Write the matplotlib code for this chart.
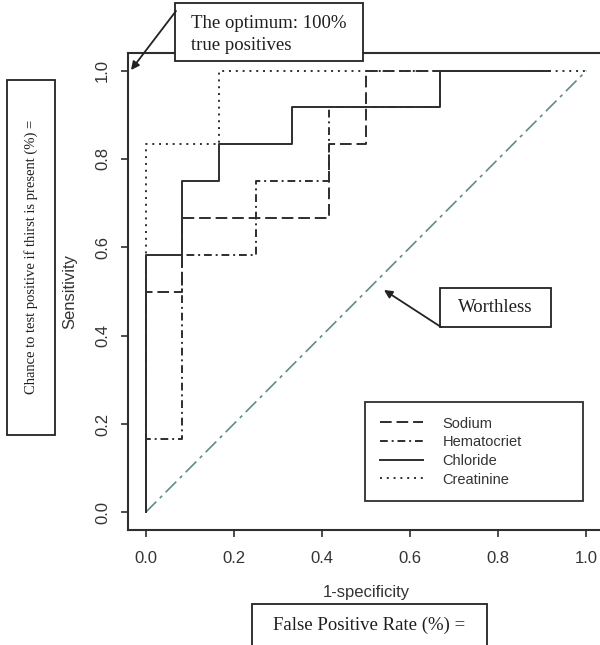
import matplotlib
matplotlib.use("Agg")
import matplotlib.pyplot as plt
from matplotlib.patches import Rectangle

# ---- data ----
sodium_fpr = [0, 0, 0.083, 0.083, 0.417, 0.417, 0.5, 0.5, 0.917]
sodium_tpr = [0, 0.5, 0.5, 0.667, 0.667, 0.833, 0.833, 1.0, 1.0]

hemat_fpr = [0, 0, 0.083, 0.083, 0.25, 0.25, 0.417, 0.417, 0.667, 0.667, 0.917]
hemat_tpr = [0, 0.167, 0.167, 0.583, 0.583, 0.75, 0.75, 0.917, 0.917, 1.0, 1.0]

chlor_fpr = [0, 0, 0.083, 0.083, 0.167, 0.167, 0.333, 0.333, 0.667, 0.667, 0.917]
chlor_tpr = [0, 0.583, 0.583, 0.75, 0.75, 0.833, 0.833, 0.917, 0.917, 1.0, 1.0]

creat_fpr = [0, 0, 0.167, 0.167, 1.0]
creat_tpr = [0, 0.833, 0.833, 1.0, 1.0]

diag = [0, 1]
ticks = [0.0, 0.2, 0.4, 0.6, 0.8, 1.0]
tick_labels = ["0.0", "0.2", "0.4", "0.6", "0.8", "1.0"]
labels = ["Sodium", "Hematocriet", "Chloride", "Creatinine"]

W, H = 600, 645
fig = plt.figure(figsize=(W / 100, H / 100), dpi=100)
fig.patch.set_facecolor("white")

L, R, T, B = 128, 604, 53, 530
ax = fig.add_axes([L / W, 1 - B / H, (R - L) / W, (B - T) / H])
ax.set_xlim(-0.04, 1.04)
ax.set_ylim(-0.04, 1.04)

ink = "#2e2e2e"
lw = 1.4
ax.plot(diag, diag, color="#5f8c8a", lw=1.2, dashes=(9, 3, 2, 3))
ax.plot(sodium_fpr, sodium_tpr, color=ink, lw=lw, dashes=(6, 2.5), label=labels[0])
ax.plot(hemat_fpr, hemat_tpr, color=ink, lw=lw, dashes=(4, 2, 1, 2), label=labels[1])
ax.plot(chlor_fpr, chlor_tpr, color=ink, lw=lw, label=labels[2])
ax.plot(creat_fpr, creat_tpr, color=ink, lw=lw, dashes=(1, 2.5), label=labels[3])

for s in ax.spines.values():
    s.set_color(ink)
    s.set_linewidth(1.5)

ax.set_xticks(ticks)
ax.set_xticklabels(tick_labels)
ax.set_yticks(ticks)
ax.set_yticklabels(tick_labels, rotation=90, va="center")
ax.tick_params(axis="both", direction="out", length=5, width=1.2, color=ink,
               labelcolor="#333333", labelsize=12)
ax.tick_params(axis="x", pad=10)
ax.tick_params(axis="y", pad=8)
for t in ax.get_xticklabels() + ax.get_yticklabels():
    t.set_fontfamily("Liberation Sans")

ax.set_xlabel("1-specificity", fontsize=12, family="Liberation Sans", color="#333333", va="center")
ax.xaxis.set_label_coords(0.5, -(593 - B) / (B - T))
ax.set_ylabel("Sensitivity", fontsize=12, family="Liberation Sans", color="#333333", va="center")
ax.yaxis.set_label_coords(-(L - 70) / (R - L), 0.5)

leg = ax.legend(loc="upper left",
                bbox_to_anchor=(365 / W, 1 - 497 / H, (583 - 365) / W, 95 / H),
                bbox_transform=fig.transFigure, mode="expand",
                prop={"family": "Liberation Sans", "size": 10.5},
                frameon=True, fancybox=False, framealpha=1, edgecolor=ink,
                handlelength=3.0, handletextpad=1.3, borderpad=1.0,
                labelspacing=0.32, borderaxespad=0)
leg.get_frame().set_linewidth(1.3)
for t in leg.get_texts():
    t.set_color("#333333")

# ---- overlay annotations in pixel coordinates ----
ov = fig.add_axes([0, 0, 1, 1], zorder=5)
ov.set_xlim(0, W)
ov.set_ylim(H, 0)
ov.axis("off")
ov.patch.set_alpha(0)

serif = "Liberation Serif"
tc = "#1e1e1e"
box_kw = dict(facecolor="white", edgecolor="#222222", lw=1.3)

ov.add_patch(Rectangle((175, 3), 188, 58, **box_kw))
ov.text(191, 23, "The optimum: 100%", family=serif, fontsize=13.5, color=tc, va="center", ha="left")
ov.text(191, 45, "true positives", family=serif, fontsize=13.5, color=tc, va="center", ha="left")
ov.annotate("", xy=(131, 70), xytext=(176, 11),
            arrowprops=dict(arrowstyle="-|>", color="#222222", lw=1.3,
                            mutation_scale=12, shrinkA=0, shrinkB=0))

ov.add_patch(Rectangle((440, 288), 111, 39, **box_kw))
ov.text(495.5, 308, "Worthless", family=serif, fontsize=13.5, color=tc, va="center", ha="center")
ov.annotate("", xy=(384, 290), xytext=(441, 327),
            arrowprops=dict(arrowstyle="-|>", color="#222222", lw=1.3,
                            mutation_scale=12, shrinkA=0, shrinkB=0))

ov.add_patch(Rectangle((7, 80), 48, 355, **box_kw))
ov.text(31, 257, "Chance to test positive if thirst is present (%) =", family=serif,
        fontsize=10.5, color=tc, va="center", ha="center", rotation=90)

ov.add_patch(Rectangle((252, 604), 235, 60, **box_kw))
ov.text(369, 625, "False Positive Rate (%) =", family=serif, fontsize=13.5, color=tc,
        va="center", ha="center")

fig.savefig("out.png", dpi=100)
